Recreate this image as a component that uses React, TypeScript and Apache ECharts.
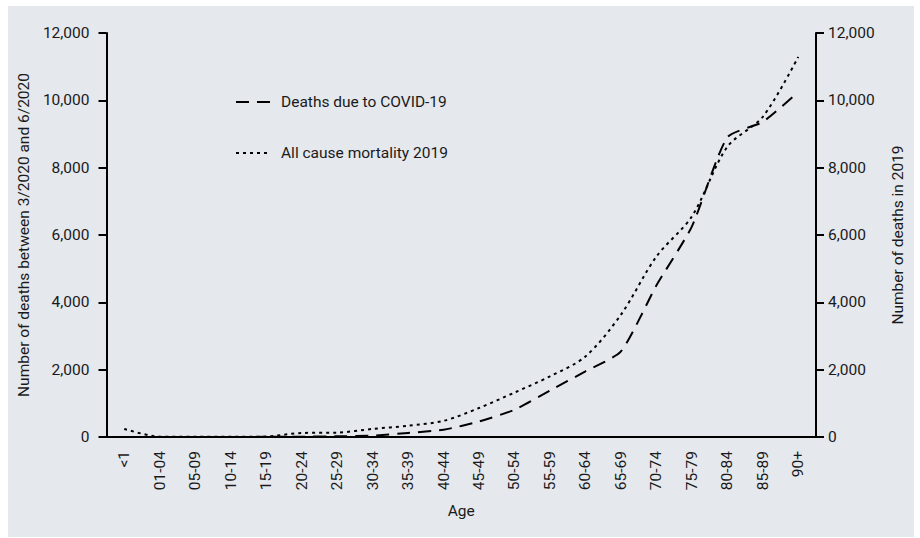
import React, { useEffect, useRef } from "react";
import * as echarts from "echarts";

const categories = ["<1", "01-04", "05-09", "10-14", "15-19", "20-24", "25-29", "30-34", "35-39", "40-44", "45-49", "50-54", "55-59", "60-64", "65-69", "70-74", "75-79", "80-84", "85-89", "90+"];
const covidDeaths = [0, 0, 0, 0, 5, 10, 20, 40, 120, 215, 460, 810, 1380, 1950, 2540, 4500, 6250, 8900, 9360, 10250];
const allCause2019 = [240, 10, 5, 5, 15, 120, 130, 240, 335, 480, 860, 1320, 1800, 2390, 3630, 5360, 6550, 8620, 9510, 11290];
const yTicks = { min: 0, max: 12000, interval: 2000 };

const FONT = "'Roboto', 'Liberation Sans', sans-serif";
const FS = 15.5;
const TXT = "#1a1a1a";

export default function App() {
  const ref = useRef<HTMLDivElement>(null);
  useEffect(() => {
    if (!ref.current) return;
    const chart = echarts.init(ref.current, null, { renderer: "svg" });
    const fmt = (v: number) => v.toLocaleString("en-US");
    const yBase = (pos: "left" | "right", name: string, gap: number, margin: number) => ({
      type: "value",
      position: pos,
      min: yTicks.min,
      max: yTicks.max,
      interval: yTicks.interval,
      name,
      nameLocation: "middle",
      nameRotate: 90,
      nameGap: gap,
      nameTextStyle: { fontFamily: FONT, fontSize: FS, color: TXT },
      axisLine: { show: true, lineStyle: { color: "#000", width: 2 } },
      axisTick: { show: true, length: 8, lineStyle: { color: "#000", width: 2 } },
      axisLabel: { fontFamily: FONT, fontSize: FS, color: TXT, margin, formatter: fmt },
      splitLine: { show: false },
    });
    chart.setOption({
      animation: false,
      backgroundColor: "#e5e8ed",
      grid: { left: 90, right: 98, top: 27, bottom: 100, containLabel: false },
      legend: {
        orient: "vertical",
        left: 222,
        top: 83,
        itemGap: 35,
        itemWidth: 34,
        itemHeight: 14,
        itemStyle: { opacity: 0 },
        textStyle: { fontFamily: FONT, fontSize: FS, color: TXT, padding: [0, 0, 0, 6] },
        data: ["Deaths due to COVID-19", "All cause mortality 2019"],
      },
      xAxis: {
        type: "category",
        data: categories,
        boundaryGap: true,
        name: "Age",
        nameLocation: "middle",
        nameGap: 66,
        nameTextStyle: { fontFamily: FONT, fontSize: FS, color: TXT },
        axisLine: { show: true, lineStyle: { color: "#000", width: 2 } },
        axisTick: { show: false },
        axisLabel: { fontFamily: FONT, fontSize: FS, color: TXT, rotate: 90, margin: 14, interval: 0 },
      },
      yAxis: [
        yBase("left", "Number of deaths between 3/2020 and 6/2020", 64, 17),
        yBase("right", "Number of deaths in 2019", 74, 12),
      ],
      series: [
        {
          name: "Deaths due to COVID-19",
          type: "line",
          yAxisIndex: 0,
          data: covidDeaths,
          smooth: 0.2,
          showSymbol: false,
          symbol: "none",
          lineStyle: { color: "#000", width: 2, type: [13, 8] },
          itemStyle: { color: "#000" },
        },
        {
          name: "All cause mortality 2019",
          type: "line",
          yAxisIndex: 1,
          data: allCause2019,
          smooth: 0.3,
          showSymbol: false,
          symbol: "none",
          lineStyle: { color: "#000", width: 2, type: [3, 4] },
          itemStyle: { color: "#000" },
        },
      ],
    });
    return () => chart.dispose();
  }, []);
  return (
    <div
      ref={ref}
      style={{ position: "absolute", left: 8, top: 6, width: 906, height: 531 }}
    />
  );
}
